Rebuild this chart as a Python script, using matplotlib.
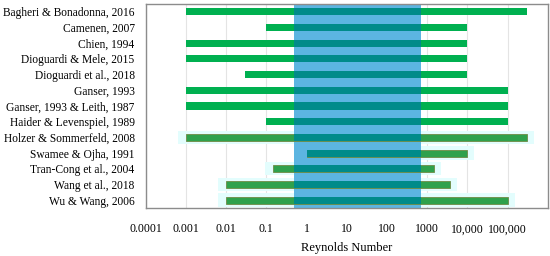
import numpy as np
import matplotlib.pyplot as plt

plt.rcParams['font.family'] = ['Liberation Serif', 'DejaVu Serif']

studies = ['Bagheri & Bonadonna, 2016', 'Camenen, 2007', 'Chien, 1994',
           'Dioguardi & Mele, 2015', 'Dioguardi et al., 2018', 'Ganser, 1993',
           'Ganser, 1993 & Leith, 1987', 'Haider & Levenspiel, 1989',
           'Holzer & Sommerfeld, 2008', 'Swamee & Ojha, 1991',
           'Tran-Cong et al., 2004', 'Wang et al., 2018', 'Wu & Wang, 2006']
re_min = [0.001, 0.1, 0.001, 0.001, 0.03, 0.001, 0.001, 0.1,
          0.001, 1.0, 0.15, 0.01, 0.01]
re_max = [3e5, 1e4, 1e4, 1e4, 1e4, 1e5, 1e5, 1e5,
          3e5, 1e4, 1.5e3, 3.6e3, 1e5]
# second group of studies drawn with the softer style
soft = [False] * 8 + [True] * 5

band_lo, band_hi = 0.5, 700
ticks = [1e-4, 1e-3, 1e-2, 1e-1, 1, 10, 100, 1000, 1e4, 1e5]
tick_labels = ['0.0001', '0.001', '0.01', '0.1', '1', '10', '100', '1000',
               '10,000', '100,000']

fig = plt.figure(figsize=(5.5, 2.56), dpi=100)
ax = fig.add_axes([0.265, 0.1875, 0.731, 0.797])

y = np.arange(len(studies))
lo = np.array(re_min)
hi = np.array(re_max)
s = np.array(soft)

# faint cyan glow behind the lower bars
ax.barh(y[s], hi[s] * 1.5 - lo[s] / 1.6, left=lo[s] / 1.6, height=0.85,
        color='#e3fdfd', zorder=1)

ax.axvspan(band_lo, band_hi, color='#5cb5e1', lw=0, zorder=2)

ax.barh(y[~s], hi[~s] - lo[~s], left=lo[~s], height=0.45,
        color='#00b050', zorder=3)
ax.barh(y[s], hi[s] - lo[s], left=lo[s], height=0.45,
        color='#2fa14c', edgecolor='#6f8a45', linewidth=0.6, zorder=3)

# part of each bar inside the band
o_lo = np.maximum(lo, band_lo)
o_hi = np.minimum(hi, band_hi)
ax.barh(y, o_hi - o_lo, left=o_lo, height=0.45, color='#008b8a', zorder=4)

ax.set_xscale('log')
ax.set_xlim(1e-4, 1e6)
ax.set_ylim(len(studies) - 0.5, -0.5)
ax.set_yticks(y)
ax.set_yticklabels(studies, fontsize=8.3)
ax.set_xticks(ticks)
ax.set_xticklabels(tick_labels, fontsize=8.5)
ax.minorticks_off()
ax.tick_params(axis='both', length=0)
ax.tick_params(axis='x', pad=11)
ax.tick_params(axis='y', pad=8)
ax.grid(axis='x', color='#e4e4e4', linewidth=0.8, zorder=0)
ax.set_axisbelow(True)
for sp in ax.spines.values():
    sp.set_color('#8c8c8c')
    sp.set_linewidth(1.0)
ax.set_xlabel('Reynolds Number', fontsize=9, labelpad=5)

fig.savefig('out.png', dpi=100)
